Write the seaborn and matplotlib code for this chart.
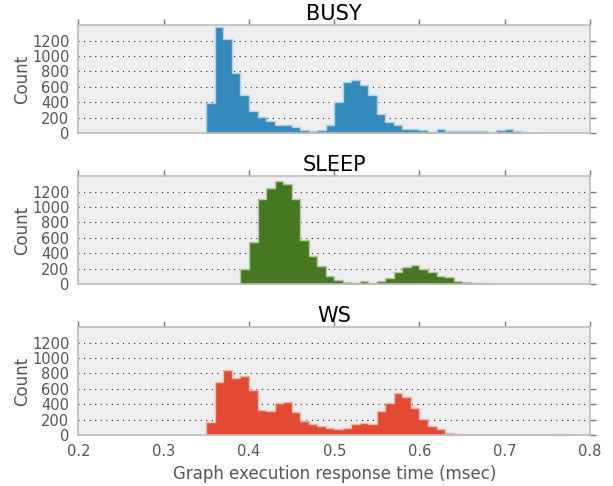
import matplotlib
matplotlib.use("Agg")
import matplotlib.pyplot as plt
import numpy as np
import pandas as pd
import seaborn as sns

# histogram counts per 0.01 msec bin, starting at the given left edge
busy_start = 0.35
busy_counts = [390, 1375, 1222, 783, 490, 284, 206, 159, 108, 99, 82, 39, 22, 39, 99,
               409, 662, 684, 628, 490, 245, 138, 103, 52, 52, 39, 17, 47, 22, 22,
               22, 22, 30, 17, 34, 47, 22, 13, 3]

sleep_start = 0.39
sleep_counts = [198, 542, 1101, 1252, 1342, 1299, 1101, 572, 361, 232, 103, 56, 26,
                13, 34, 17, 39, 77, 159, 219, 241, 194, 155, 103, 90, 39, 26, 17, 9, 4]

ws_start = 0.35
ws_counts = [168, 684, 847, 740, 766, 581, 327, 314, 413, 426, 301, 181, 146, 120, 90,
             77, 90, 142, 151, 142, 310, 409, 542, 490, 344, 206, 120, 77, 26, 9, 4,
             2, 1, 1, 1, 2, 2, 1, 4, 2, 3, 13, 1, 3]

panels = [("BUSY", busy_start, busy_counts, "#348ABD"),
          ("SLEEP", sleep_start, sleep_counts, "#467821"),
          ("WS", ws_start, ws_counts, "#E24A33")]

bin_width = 0.01
y_ticks = [0, 200, 400, 600, 800, 1000, 1200]
x_ticks = [0.2, 0.3, 0.4, 0.5, 0.6, 0.7, 0.8]

sns.set_theme(style="white")
plt.rcParams["font.family"] = ["DejaVu Sans"]

fig, axes = plt.subplots(3, 1, figsize=(6.13, 4.86), dpi=100, sharex=True)
fig.subplots_adjust(left=0.128, right=0.9625, top=0.948, bottom=0.105, hspace=0.40)

for ax, (name, start, counts, color) in zip(axes, panels):
    edges = start + bin_width * np.arange(len(counts) + 1)
    df = pd.DataFrame({"t": (edges[:-1] + edges[1:]) / 2, "n": counts})
    ax.set_facecolor("#eeeeee")
    ax.set_axisbelow(True)
    ax.yaxis.grid(True, linestyle=(0, (1, 4)), color="#222222", linewidth=0.8)
    sns.histplot(data=df, x="t", weights="n", bins=edges.tolist(), element="step",
                 fill=True, color=color, alpha=1.0,
                 edgecolor=sns.light_palette(color, 4)[1], linewidth=1.0, ax=ax)
    ax.set_xlim(0.2, 0.8)
    ax.set_ylim(0, 1400)
    ax.set_yticks(y_ticks)
    ax.set_xticks(x_ticks)
    ax.set_title(name, fontsize=15, color="black", pad=4)
    ax.set_ylabel("Count", fontsize=12, color="#555555", labelpad=1)
    ax.set_xlabel("")
    ax.tick_params(axis="both", which="both", direction="out", length=4, width=1,
                   color="#777777", labelcolor="#555555", labelsize=10.5,
                   top=True, right=True, pad=2.5)
    for sp in ax.spines.values():
        sp.set_color("#bcbcbc")
        sp.set_linewidth(1.2)

axes[-1].set_xlabel("Graph execution response time (msec)", fontsize=12, color="#555555")
axes[-1].set_xticklabels([f"{t:.1f}" for t in x_ticks])

fig.savefig("out.png", dpi=100)
